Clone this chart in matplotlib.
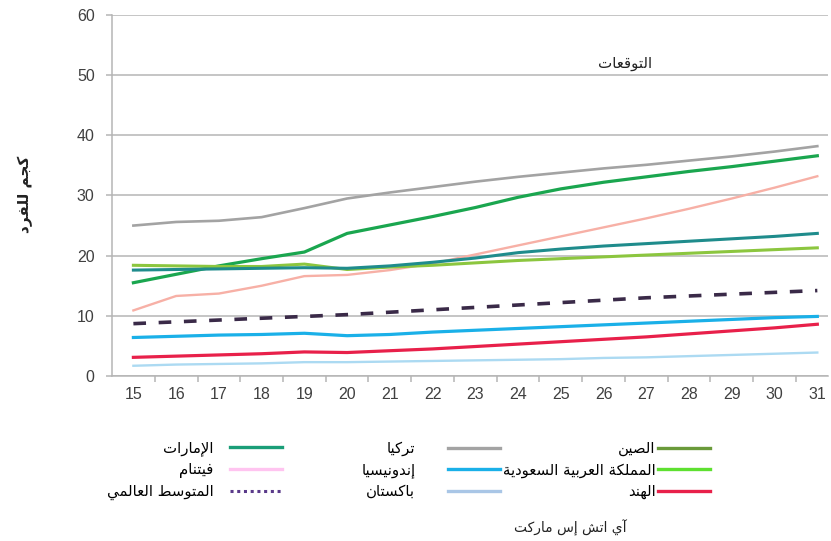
#python 3
# Meat consumption per capita, 2015-2031 (Arabic labels)

import numpy as np
import matplotlib.pyplot as plt
from matplotlib.lines import Line2D

years = list(range(15, 32))

turkey = [25.0, 25.6, 25.8, 26.4, 27.9, 29.5, 30.5, 31.4, 32.3, 33.1, 33.8, 34.5, 35.1, 35.8, 36.5, 37.3, 38.2]
uae = [15.5, 16.9, 18.3, 19.5, 20.6, 23.7, 25.1, 26.5, 28.0, 29.7, 31.1, 32.2, 33.1, 34.0, 34.8, 35.7, 36.6]
vietnam = [10.9, 13.3, 13.7, 15.0, 16.6, 16.8, 17.6, 18.7, 20.2, 21.7, 23.2, 24.7, 26.2, 27.8, 29.5, 31.3, 33.2]
china = [17.6, 17.7, 17.8, 17.9, 18.0, 17.9, 18.3, 18.9, 19.6, 20.5, 21.1, 21.6, 22.0, 22.4, 22.8, 23.2, 23.7]
saudi = [18.4, 18.3, 18.2, 18.2, 18.6, 17.7, 18.1, 18.4, 18.8, 19.2, 19.5, 19.8, 20.1, 20.4, 20.7, 21.0, 21.3]
world = [8.7, 9.0, 9.3, 9.6, 9.9, 10.2, 10.6, 11.0, 11.4, 11.8, 12.2, 12.6, 13.0, 13.3, 13.6, 13.9, 14.2]
indonesia = [6.4, 6.6, 6.8, 6.9, 7.1, 6.7, 6.9, 7.3, 7.6, 7.9, 8.2, 8.5, 8.8, 9.1, 9.4, 9.7, 9.9]
india = [3.1, 3.3, 3.5, 3.7, 4.0, 3.9, 4.2, 4.5, 4.9, 5.3, 5.7, 6.1, 6.5, 7.0, 7.5, 8.0, 8.6]
pakistan = [1.7, 1.9, 2.0, 2.1, 2.3, 2.3, 2.4, 2.5, 2.6, 2.7, 2.8, 3.0, 3.1, 3.3, 3.5, 3.7, 3.9]

labels = ['الإمارات', 'فيتنام', 'المتوسط العالمي',
          'تركيا', 'إندونيسيا', 'باكستان',
          'الصين', 'المملكة العربية السعودية', 'الهند']
ylabel = 'كجم للفرد'
forecast_label = 'التوقعات'
source = 'آي اتش إس ماركت'

# matplotlib does no arabic shaping -> map to presentation forms and reverse
FORMS = {
    'ا': 0xFE8D, 'آ': 0xFE81, 'إ': 0xFE87, 'د': 0xFEA9, 'ر': 0xFEAD, 'و': 0xFEED, 'ة': 0xFE93,
    'ب': 0xFE8F, 'ت': 0xFE95, 'ج': 0xFE9D, 'س': 0xFEB1, 'ش': 0xFEB5, 'ص': 0xFEB9, 'ط': 0xFEC1,
    'ع': 0xFEC9, 'ف': 0xFED1, 'ق': 0xFED5, 'ك': 0xFED9, 'ل': 0xFEDD, 'م': 0xFEE1, 'ن': 0xFEE5,
    'ه': 0xFEE9, 'ي': 0xFEF1,
}
RIGHT_ONLY = set('اآإدروة')
LAM_ALEF = {'آ': 0xFEF5, 'أ': 0xFEF7, 'إ': 0xFEF9, 'ا': 0xFEFB}

def ar(s):
    seq = []
    i = 0
    while i < len(s):
        if s[i] == 'ل' and i + 1 < len(s) and s[i + 1] in LAM_ALEF:
            seq.append('LA' + s[i + 1])
            i += 2
        else:
            seq.append(s[i])
            i += 1
    is_letter = lambda t: t in FORMS or t.startswith('LA')
    is_dual = lambda t: t in FORMS and t not in RIGHT_ONLY
    out = []
    for k, t in enumerate(seq):
        jp = k > 0 and is_dual(seq[k - 1])
        jn = is_dual(t) and k + 1 < len(seq) and is_letter(seq[k + 1])
        if t.startswith('LA'):
            out.append(chr(LAM_ALEF[t[2]] + (1 if jp else 0)))
        elif t in FORMS:
            base = FORMS[t]
            if t in RIGHT_ONLY:
                out.append(chr(base + (1 if jp else 0)))
            else:
                off = 3 if (jp and jn) else 1 if jp else 2 if jn else 0
                out.append(chr(base + off))
        else:
            out.append(t)
    return ''.join(out[::-1])

plt.rcParams['font.family'] = ['Liberation Sans', 'DejaVu Sans']

fig = plt.figure(figsize=(8.31, 5.41), dpi=100)
ax = fig.add_axes([0.1348, 0.305, 0.8616, 0.6673])

ax.plot(years, turkey, color='#a3a3a3', lw=1.9)
ax.plot(years, vietnam, color='#f7b0a6', lw=1.7)
ax.plot(years, uae, color='#1aa64f', lw=2.3)
ax.plot(years, saudi, color='#8cc63f', lw=2.2)
ax.plot(years, china, color='#1f8c8c', lw=2.2)
ax.plot(years, world, color='#3a2a48', lw=2.6, dashes=(3.5, 3.5))
ax.plot(years, indonesia, color='#1ab0e8', lw=2.3)
ax.plot(years, india, color='#e8204a', lw=2.3)
ax.plot(years, pakistan, color='#acdaf2', lw=1.7)

ax.set_xlim(14.5, 31.25)
ax.set_ylim(0, 60)
ax.set_yticks(np.arange(0, 61, 10))
ax.set_xticks(years)
ax.set_xticks(np.arange(15.5, 31, 1), minor=True)
ax.grid(axis='y', color='#b5b5b5', lw=1.1)
ax.set_axisbelow(True)
for s in ['top', 'right']:
    ax.spines[s].set_visible(False)
for s in ['left', 'bottom']:
    ax.spines[s].set_color('#b5b5b5')
    ax.spines[s].set_linewidth(1.1)
ax.tick_params(axis='y', length=4.5, width=1.1, color='#b5b5b5', labelsize=11.5,
               labelcolor='#404040', pad=8)
ax.tick_params(axis='x', which='major', length=0, labelsize=11.5, labelcolor='#404040', pad=8)
ax.tick_params(axis='x', which='minor', length=4.5, width=1.1, color='#b5b5b5')

ax.text(26.5, 52, ar(forecast_label), ha='center', va='center', fontsize=10.8,
        family='DejaVu Sans', color='#222222')
fig.text(0.031, 0.64, ar(ylabel), rotation=90, ha='center', va='center', fontsize=11,
         fontweight='bold', family='DejaVu Sans', color='#222222')

leg_colors = ['#1a9e78', '#ffc4f0', '#5a3a8a',
              '#a3a3a3', '#1ab0e8', '#a9c6e6',
              '#6a9a3a', '#5ee030', '#e8204a']
handles = []
for i, c in enumerate(leg_colors):
    if i == 2:
        handles.append(Line2D([], [], color=c, lw=2.2, dashes=(1, 1.2)))
    else:
        handles.append(Line2D([], [], color=c, lw=2.4))
names = [ar(l) for l in labels]

# one legend per column, anchored at the right end of the handles
col_right = [282 / 831, 500 / 831, 710 / 831]
col_pad = [1.1, 2.2, 0.15]
for j in range(3):
    leg = fig.legend(handles[3 * j:3 * j + 3], names[3 * j:3 * j + 3], markerfirst=False,
                     loc='center right', bbox_to_anchor=(col_right[j], 1 - 470 / 541),
                     frameon=False, borderpad=0, borderaxespad=0,
                     prop={'family': 'DejaVu Sans', 'size': 10.7}, handlelength=3.5,
                     handletextpad=col_pad[j], labelspacing=0.42)

fig.text(0.686, 0.024, ar(source), ha='center', va='center', fontsize=10,
         family='DejaVu Sans', color='#222222')

plt.savefig('out.png', dpi=100)
